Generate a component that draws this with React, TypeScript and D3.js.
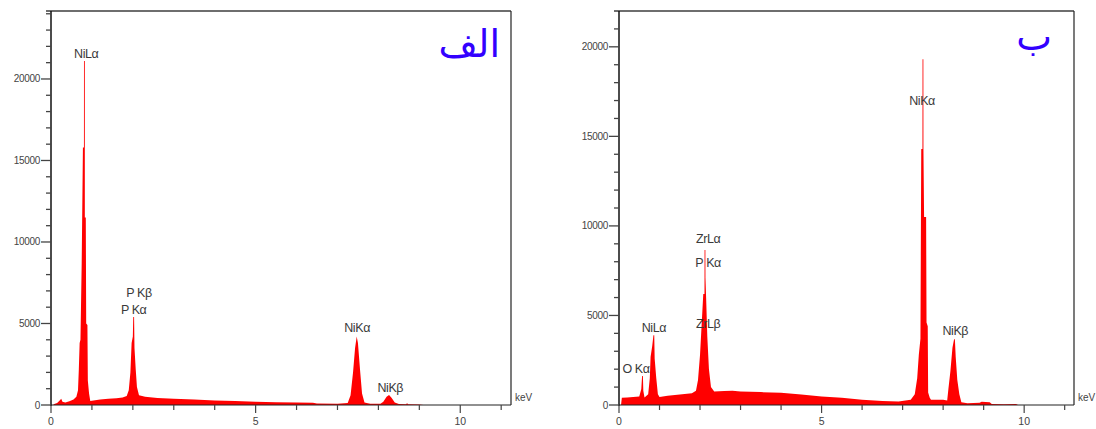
import React from "react";
import * as d3 from "d3";

// Spectrum A (الف): [keV, counts]
const spectrumA: [number, number][] = [
  [0.05, 0], [0.08, 60], [0.15, 120], [0.2, 250], [0.25, 380], [0.28, 200], [0.35, 150], [0.45, 230],
  [0.55, 330], [0.62, 500], [0.66, 900], [0.68, 2200], [0.7, 3800], [0.72, 4000], [0.75, 8700],
  [0.78, 15800], [0.805, 15800], [0.806, 21100], [0.826, 21100], [0.827, 11500], [0.85, 11500], [0.86, 5000],
  [0.89, 4900], [0.9, 1500], [0.93, 700], [0.96, 250], [1.0, 260], [1.2, 330], [1.4, 380],
  [1.6, 420], [1.75, 460], [1.85, 550], [1.9, 900], [1.94, 2000], [1.97, 3800], [2.0, 4200],
  [2.01, 5400], [2.03, 5400], [2.04, 3500], [2.07, 2200], [2.1, 1100], [2.15, 600], [2.3, 500], [2.6, 430],
  [3.0, 380], [3.5, 330], [4.0, 280], [4.5, 240], [5.0, 200], [5.5, 170], [6.0, 150], [6.4, 140],
  [6.5, 90], [7.0, 80], [7.25, 120], [7.32, 600], [7.38, 2000], [7.43, 3500], [7.47, 4200],
  [7.5, 3800], [7.55, 2200], [7.6, 700], [7.66, 150], [7.8, 80], [8.05, 80], [8.12, 200],
  [8.2, 500], [8.26, 620], [8.32, 450], [8.4, 150], [8.5, 60], [8.68, 50], [8.7, 120],
  [8.72, 40], [9.0, 30], [9.1, 0],
];

// Spectrum B (ب): [keV, counts]
const spectrumB: [number, number][] = [
  [0.05, 0], [0.07, 400], [0.2, 420], [0.35, 450], [0.5, 480], [0.55, 900], [0.57, 1620],
  [0.59, 1620], [0.6, 800], [0.63, 420], [0.72, 600], [0.76, 1500], [0.78, 2700], [0.82, 3300],
  [0.85, 3900], [0.87, 3900], [0.88, 2600], [0.92, 1500], [0.96, 600], [1.0, 450], [1.2, 520],
  [1.5, 580], [1.8, 650], [1.9, 800], [1.95, 1400], [2.0, 2800], [2.04, 4500], [2.08, 6200],
  [2.11, 6200], [2.112, 8660], [2.132, 8660], [2.134, 7100], [2.15, 6000], [2.18, 3800],
  [2.22, 2000], [2.27, 1000], [2.35, 760], [2.6, 780], [2.8, 800], [3.0, 760], [3.5, 720],
  [4.0, 680], [4.5, 580], [5.0, 470], [5.5, 400], [6.0, 300], [6.5, 220], [6.9, 200], [7.2, 300],
  [7.3, 600], [7.36, 1500], [7.4, 2800], [7.44, 3700], [7.46, 14300], [7.49, 14300],
  [7.492, 19300], [7.512, 19300], [7.514, 14300], [7.53, 10500], [7.58, 10500],
  [7.59, 4600], [7.62, 4400], [7.63, 700], [7.67, 400], [7.7, 300], [8.0, 300], [8.1, 250],
  [8.13, 900], [8.18, 1900], [8.23, 3200], [8.27, 3670], [8.29, 3670], [8.31, 2700], [8.35, 1400],
  [8.4, 600], [8.45, 150], [8.6, 100], [8.9, 120], [8.95, 180], [9.15, 150], [9.2, 60],
  [9.5, 40], [9.8, 50], [9.85, 0],
];

// Peak labels: [text, keV, counts at label baseline]
const labelsA: [string, number, number][] = [
  ["NiLα", 0.86, 21300],
  ["P Kβ", 2.15, 6600],
  ["P Kα", 2.02, 5600],
  ["NiKα", 7.48, 4460],
  ["NiKβ", 8.29, 800],
];
const labelsB: [string, number, number][] = [
  ["O Kα", 0.42, 1800],
  ["NiLα", 0.86, 4100],
  ["ZrLα", 2.2, 9050],
  ["P Kα", 2.2, 7700],
  ["ZrLβ", 2.2, 4300],
  ["NiKα", 7.48, 16750],
  ["NiKβ", 8.3, 3900],
];

const xTicksMajor = [0, 5, 10];
const xTicksMinor = [1, 2, 3, 4, 6, 7, 8, 9, 11];
const yTicksMajor = [0, 5000, 10000, 15000, 20000];

type PanelProps = {
  data: [number, number][];
  labels: [string, number, number][];
  title: string;
  x0: number;
  x1: number;
  yTop: number;
  xMax: number;
  yMax: number;
  titleX: number;
  titleY: number;
};

function Panel({ data, labels, title, x0, x1, yTop, xMax, yMax, titleX, titleY }: PanelProps) {
  const yBottom = 405;
  const x = d3.scaleLinear().domain([0, xMax]).range([x0, x1]);
  const y = d3.scaleLinear().domain([0, yMax]).range([yBottom, yTop]);
  const area = d3
    .area<[number, number]>()
    .x((d) => x(d[0]))
    .y0(yBottom)
    .y1((d) => y(d[1]))
    .curve(d3.curveLinear);
  const minorY = d3.range(1000, yMax, 1000).filter((v) => v % 5000 !== 0);
  const font = "'Liberation Sans', Arial, sans-serif";
  return (
    <g>
      <path d={area(data) || ""} fill="#ff0000" stroke="none" />
      {/* frame */}
      <line x1={x0 - 5} x2={x1} y1={yTop} y2={yTop} stroke="#6e6e6e" strokeWidth={2} />
      <line x1={x1} x2={x1} y1={yTop} y2={yBottom} stroke="#222" strokeWidth={1.2} />
      <line x1={x0} x2={x1} y1={yBottom} y2={yBottom} stroke="#222" strokeWidth={1.2} />
      <line x1={x0} x2={x0} y1={yTop} y2={yBottom + 1} stroke="#111" strokeWidth={1.5} />
      {/* y ticks */}
      {yTicksMajor.map((v) => (
        <g key={"ym" + v}>
          <line x1={x0 - 10} x2={x0} y1={y(v)} y2={y(v)} stroke="#444" strokeWidth={1.3} />
          <text x={x0 - 11} y={y(v) + 3.5} fontSize={10} textAnchor="end" fill="#444" fontFamily={font} letterSpacing={-0.3}>
            {v}
          </text>
        </g>
      ))}
      {minorY.map((v) => (
        <line key={"yn" + v} x1={x0 - 5} x2={x0} y1={y(v)} y2={y(v)} stroke="#444" strokeWidth={1.3} />
      ))}
      {/* x ticks */}
      {xTicksMajor.map((v) => (
        <g key={"xm" + v}>
          <line x1={x(v)} x2={x(v)} y1={yBottom} y2={yBottom + 8} stroke="#444" strokeWidth={1.2} />
          <text x={x(v)} y={425} fontSize={10.5} textAnchor="middle" fill="#444" fontFamily={font}>
            {v}
          </text>
        </g>
      ))}
      {xTicksMinor.map((v) => (
        <line key={"xn" + v} x1={x(v)} x2={x(v)} y1={yBottom} y2={yBottom + 5} stroke="#444" strokeWidth={1.2} />
      ))}
      <text x={x1 + 4} y={401} fontSize={10} fill="#444" fontFamily={font}>
        keV
      </text>
      {labels.map(([t, kv, c], i) => (
        <text key={"l" + i} x={x(kv)} y={y(c)} fontSize={12.5} textAnchor="middle" fill="#3a3a3a" fontFamily={font} letterSpacing={-0.4}>
          {t}
        </text>
      ))}
      <text x={titleX} y={titleY} fontSize={38} textAnchor="end" fill="#3300ff" fontFamily="'DejaVu Sans', sans-serif">
        {title}
      </text>
    </g>
  );
}

export default function App() {
  return (
    <svg width={1096} height={429} style={{ position: "absolute", left: 0, top: 0, background: "#fff" }}>
      <rect width={1096} height={429} fill="#fff" />
      <Panel data={spectrumA} labels={labelsA} title="الف" x0={51} x1={511} yTop={11} xMax={11.24} yMax={24170} titleX={500} titleY={57} />
      <Panel data={spectrumB} labels={labelsB} title="ب" x0={619} x1={1074} yTop={11} xMax={11.23} yMax={22000} titleX={1052} titleY={50} />
    </svg>
  );
}
